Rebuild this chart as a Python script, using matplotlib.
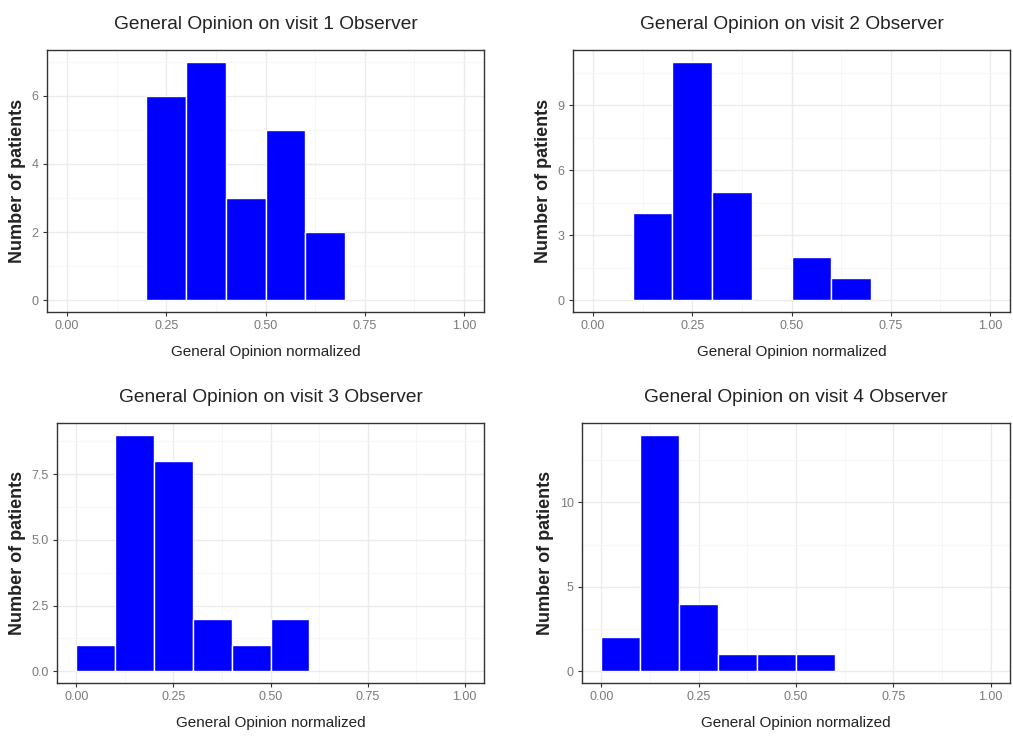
import matplotlib
matplotlib.use("Agg")
import matplotlib.pyplot as plt
import numpy as np

plt.rcParams['font.family'] = ['Liberation Sans', 'DejaVu Sans']

bin_edges = [0.0, 0.1, 0.2, 0.3, 0.4, 0.5, 0.6, 0.7]
counts_v1 = [0, 0, 6, 7, 3, 5, 2]
counts_v2 = [0, 4, 11, 5, 0, 2, 1]
counts_v3 = [1, 9, 8, 2, 1, 2, 0]
counts_v4 = [2, 14, 4, 1, 1, 1, 0]
titles = ["General Opinion on visit 1 Observer", "General Opinion on visit 2 Observer",
          "General Opinion on visit 3 Observer", "General Opinion on visit 4 Observer"]
yticks_list = [[0, 2, 4, 6], [0, 3, 6, 9], [0, 2.5, 5.0, 7.5], [0, 5, 10]]
ytick_labels = [["0", "2", "4", "6"], ["0", "3", "6", "9"], ["0.0", "2.5", "5.0", "7.5"], ["0", "5", "10"]]
xticks = [0.0, 0.25, 0.5, 0.75, 1.0]
xtick_labels = ["0.00", "0.25", "0.50", "0.75", "1.00"]
xlabel = "General Opinion normalized"
ylabel = "Number of patients"

W, H = 1013, 740
fig = plt.figure(figsize=(W / 100, H / 100), dpi=100)

# panel rectangles in pixels: left, top, right, bottom
panels = [(47, 50, 484, 312), (573, 50, 1010, 312), (57, 423, 484, 683), (582, 423, 1010, 683)]
all_counts = [counts_v1, counts_v2, counts_v3, counts_v4]

for i, (l, t, r, b) in enumerate(panels):
    ax = fig.add_axes([l / W, 1 - b / H, (r - l) / W, (b - t) / H])
    counts = np.array(all_counts[i])
    edges = np.array(bin_edges)
    lefts = edges[:-1]
    widths = np.diff(edges)
    mask = counts > 0
    ax.bar(lefts[mask], counts[mask], width=widths[mask], align='edge',
           color='#0000FF', edgecolor='white', linewidth=1.0, zorder=3)
    ymax = counts.max()
    ax.set_xticks(xticks)
    ax.set_xticklabels(xtick_labels)
    ax.set_yticks(yticks_list[i])
    ax.set_yticklabels(ytick_labels[i])
    yt = yticks_list[i]
    step = yt[1] - yt[0]
    minor_y = [v + step / 2 for v in yt]
    ax.set_yticks(minor_y, minor=True)
    ax.set_xticks([0.125, 0.375, 0.625, 0.875], minor=True)
    ax.set_ylim(-0.05 * ymax, 1.05 * ymax)
    ax.set_xlim(-0.05, 1.05)
    ax.grid(which='major', color='#EBEBEB', linewidth=1.0, zorder=0)
    ax.grid(which='minor', color='#F5F5F5', linewidth=0.6, zorder=0)
    ax.tick_params(which='minor', length=0)
    ax.tick_params(which='major', length=3, width=0.8, color='#333333',
                   labelsize=9, labelcolor='#7A7A7A', pad=3)
    for s in ax.spines.values():
        s.set_color('#333333')
        s.set_linewidth(1.0)
    ax.set_axisbelow(True)
    ax.set_title(titles[i], fontsize=13.8, color='#222222', pad=15)
    ax.set_xlabel(xlabel, fontsize=11, color='#222222', labelpad=9)
    ax.set_ylabel(ylabel, fontsize=13, color='#222222', labelpad=4, fontweight='bold')

fig.savefig("out.png", dpi=100, facecolor='white')
